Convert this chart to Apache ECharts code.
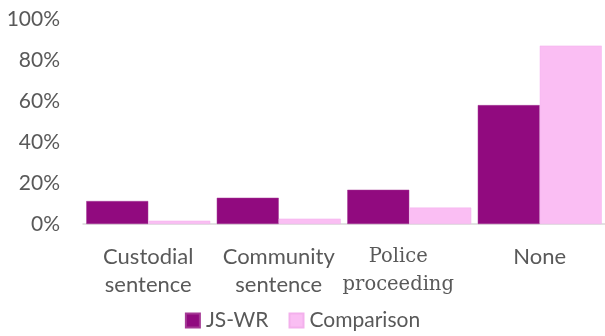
<!DOCTYPE html>
<html><head><meta charset="utf-8">
<script src="https://cdn.jsdelivr.net/npm/echarts@6/dist/echarts.min.js"></script>
<style>html,body{margin:0;padding:0;background:#fff}#c{width:605px;height:336px}</style>
</head><body><div id="c"></div>
<script>
const categories = ['Custodial\nsentence', 'Community\nsentence', 'Police\nproceeding', 'None'];
const jsWR = [11.2, 12.8, 16.7, 58];
const comparison = [1.6, 2.6, 8, 87];
const yTicks = [0, 20, 40, 60, 80, 100];

const chart = echarts.init(document.getElementById('c'));
chart.setOption({
  animation: false,
  grid: {left: 83, right: 0, top: 19, bottom: 112, containLabel: false},
  legend: {
    bottom: 0, left: 'center', itemWidth: 14, itemHeight: 14, itemGap: 20,
    icon: 'rect',
    textStyle: {fontFamily: 'Lato', fontSize: 21, color: '#595959', padding: [0,0,0,1]},
    data: ['JS-WR', 'Comparison']
  },
  xAxis: {
    type: 'category', data: categories,
    axisLine: {lineStyle: {color: '#d9d9d9', width: 1.5}},
    axisTick: {show: false},
    axisLabel: {
      interval: 0,
      margin: 19, color: '#595959', fontFamily: 'Lato', fontSize: 22, lineHeight: 28,
      formatter: function (v) {
        if (v.indexOf('Police') === 0) return '{s|Police}\n{s|proceeding}';
        return v;
      },
      rich: {s: {fontFamily: 'DejaVu Serif', fontSize: 19.5, lineHeight: 28, color: '#595959', padding: [0, 22, 0, 0]}}
    }
  },
  yAxis: {
    type: 'value', min: 0, max: 100, interval: 20,
    axisLine: {show: false}, axisTick: {show: false},
    splitLine: {show: false},
    axisLabel: {
      margin: 23, color: '#595959', fontFamily: 'Lato', fontSize: 21,
      formatter: function (v) { return yTicks.indexOf(v) >= 0 ? v + '%' : ''; }
    }
  },
  series: [
    {name: 'JS-WR', type: 'bar', data: jsWR, barGap: '0%', barCategoryGap: '5%',
     itemStyle: {color: '#910A7F', borderColor: '#a53a95', borderWidth: 0.5}},
    {name: 'Comparison', type: 'bar', data: comparison,
     itemStyle: {color: '#FABEF3', borderColor: '#f3b0ec', borderWidth: 0.5}}
  ]
});
</script></body></html>
